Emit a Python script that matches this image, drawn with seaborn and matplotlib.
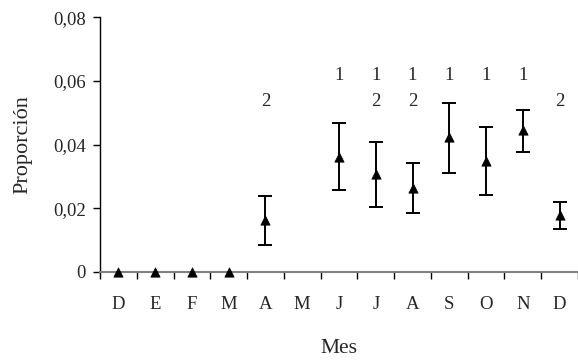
import numpy as np
import pandas as pd
import seaborn as sns
import matplotlib.pyplot as plt
from matplotlib.ticker import FixedLocator, FuncFormatter

meses = ["D", "E", "F", "M", "A", "M", "J", "J", "A", "S", "O", "N", "D"]
proporcion = [0.0, 0.0, 0.0, 0.0, 0.0163, np.nan, 0.0361, 0.0307, 0.0263, 0.0423, 0.0348, 0.0445, 0.0179]
limite_sup = [np.nan, np.nan, np.nan, np.nan, 0.0238, np.nan, 0.0467, 0.0409, 0.0343, 0.0531, 0.0456, 0.0508, 0.0221]
limite_inf = [np.nan, np.nan, np.nan, np.nan, 0.0083, np.nan, 0.0258, 0.0205, 0.0184, 0.0312, 0.0243, 0.0376, 0.0135]
etiqueta_1 = ["", "", "", "", "", "", "1", "1", "1", "1", "1", "1", ""]
etiqueta_2 = ["", "", "", "", "2", "", "", "2", "2", "", "", "", "2"]

df = pd.DataFrame({"pos": np.arange(len(meses)), "prop": proporcion,
                   "sup": limite_sup, "inf": limite_inf})

sns.set_theme(style="ticks")
plt.rcParams['font.family'] = ['Liberation Serif', 'DejaVu Serif']

fig = plt.figure(figsize=(5.78, 3.64), dpi=100)
ax = fig.add_axes([0.173, 0.253, 0.827, 0.700])

err = df.dropna(subset=["sup"])
ax.errorbar(err["pos"], err["prop"],
            yerr=[err["prop"] - err["inf"], err["sup"] - err["prop"]],
            fmt="none", ecolor="black", elinewidth=1.4, capsize=4.8, capthick=1.4, zorder=3)
sns.scatterplot(data=df.dropna(subset=["prop"]), x="pos", y="prop", marker="^", s=45,
                color="black", edgecolor="black", linewidth=0.5, ax=ax, zorder=4, clip_on=False)

for i in range(len(meses)):
    if etiqueta_1[i]:
        ax.text(i, 0.0618, etiqueta_1[i], ha="center", va="center", fontsize=13.5)
    if etiqueta_2[i]:
        ax.text(i, 0.0534, etiqueta_2[i], ha="center", va="center", fontsize=13.5)

ax.set_xlim(-0.5, len(meses) - 0.5)
ax.set_ylim(0, 0.08)
ax.set_yticks([0, 0.02, 0.04, 0.06, 0.08])
ax.yaxis.set_major_formatter(FuncFormatter(lambda v, p: "0" if v == 0 else f"{v:.2f}".replace(".", ",")))
ax.set_xticks(range(len(meses)))
ax.set_xticklabels(meses)
ax.xaxis.set_minor_locator(FixedLocator(np.arange(-0.5, len(meses), 1.0)))
ax.tick_params(axis="x", which="major", length=0, pad=17, labelsize=13.5)
ax.tick_params(axis="x", which="minor", length=5, width=1, color="black", direction="out")
ax.tick_params(axis="y", length=5, width=1, color="black", labelsize=13.5, pad=5)

sns.despine(ax=ax)
ax.spines["left"].set_color("black")
ax.spines["left"].set_linewidth(1)
ax.spines["bottom"].set_color("#808080")
ax.spines["bottom"].set_linewidth(1.5)
ax.grid(False)

ax.set_xlabel("Mes", fontsize=15.5, labelpad=19)
ax.set_ylabel("Proporción", fontsize=16, labelpad=15)

fig.savefig("out.png", dpi=100)
